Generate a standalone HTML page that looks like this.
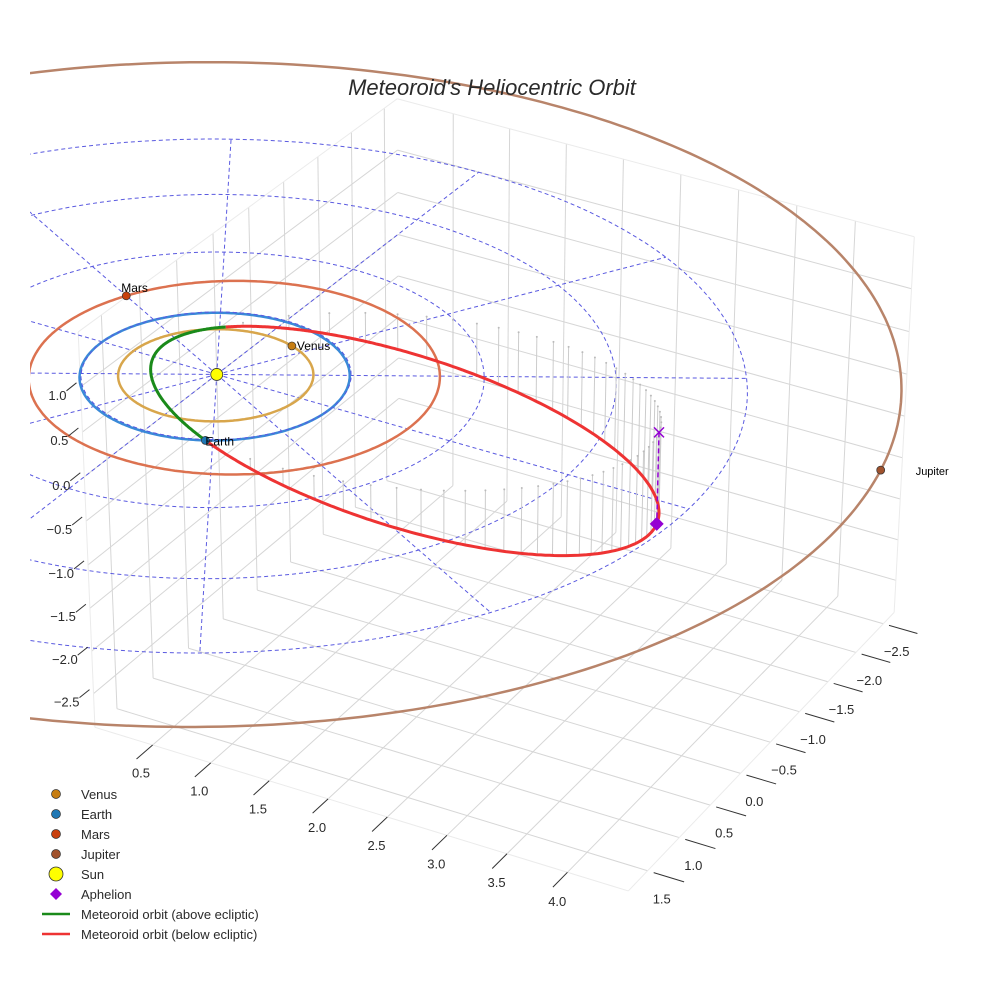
<!DOCTYPE html>
<html><head><meta charset="utf-8"><title>Meteoroid's Heliocentric Orbit</title>
<style>
html,body{margin:0;padding:0;background:#fff;}
svg{display:block;font-family:"Liberation Sans",Arial,sans-serif;}
</style></head>
<body>
<svg id="chart" width="984" height="984" viewBox="0 0 984 984" xmlns="http://www.w3.org/2000/svg">
<defs><clipPath id="sceneClip"><rect x="30" y="0" width="954" height="984"/></clipPath></defs>
<rect x="0" y="0" width="984" height="984" fill="#fff"/>
<g id="scene" clip-path="url(#sceneClip)"></g>
<text x="492" y="95" text-anchor="middle" font-size="22" font-style="italic" fill="#2a2a2a">Meteoroid's Heliocentric Orbit</text>
<g id="legend" font-size="13" fill="#2a2a2a">
  <g><circle cx="56" cy="794" r="4.5" fill="#c67d12" stroke="#333" stroke-width="0.7"/><text x="81" y="799">Venus</text></g>
  <g><circle cx="56" cy="814" r="4.5" fill="#1f77b4" stroke="#333" stroke-width="0.7"/><text x="81" y="819">Earth</text></g>
  <g><circle cx="56" cy="834" r="4.5" fill="#c8400e" stroke="#333" stroke-width="0.7"/><text x="81" y="839">Mars</text></g>
  <g><circle cx="56" cy="854" r="4.5" fill="#a0522d" stroke="#333" stroke-width="0.7"/><text x="81" y="859">Jupiter</text></g>
  <g><circle cx="56" cy="874" r="7" fill="#ffff00" stroke="#333" stroke-width="0.8"/><text x="81" y="879">Sun</text></g>
  <g><path d="M56 888 L62 894 L56 900 L50 894 Z" fill="#9400d3"/><text x="81" y="899">Aphelion</text></g>
  <g><line x1="42" y1="914" x2="70" y2="914" stroke="#1a8a1a" stroke-width="2.5"/><text x="81" y="919">Meteoroid orbit (above ecliptic)</text></g>
  <g><line x1="42" y1="934" x2="70" y2="934" stroke="#ee3333" stroke-width="2.5"/><text x="81" y="939">Meteoroid orbit (below ecliptic)</text></g>
</g>
</svg>
<script>
// ---- data ----
const planetNames = ['Venus', 'Earth', 'Mars', 'Jupiter'];
const planetSemiMajor = [0.723, 1.0, 1.524, 5.203];
const planetEccentricity = [0.0068, 0.0167, 0.0934, 0.0484];
const planetPeriLongDeg = [305, 277, 150, 61];
const planetAnglesDeg = [-70, 63, 210, -14];
const orbitSemiMajor = 2.03;
const orbitEccentricity = 0.757;
const orbitInclinationDeg = 17.8;
const orbitNodeDeg = 63;
const orbitPeriArgDeg = 101;
const xTicks = [0.5, 1.0, 1.5, 2.0, 2.5, 3.0, 3.5, 4.0];
const yTicks = [-2.5, -2.0, -1.5, -1.0, -0.5, 0.0, 0.5, 1.0, 1.5];
const zTicks = [1.0, 0.5, 0.0, -0.5, -1.0, -1.5, -2.0, -2.5];
const xRange = [0, 4.5];
const yRange = [-2.7, 1.8];
const zRange = [-2.9, 1.6];
const ringRadii = [1, 2, 3, 4];
const spokeAngles = [0, 30, 60, 90, 120, 150, 180, 210, 240, 270, 300, 330];
const spokeLength = 4;
const stemCount = 60;

// ---- camera (fit to box geometry and fixed calibration points) ----
function fitCamera() {
  const refs = [[0,0,0,401,464],[1,0,0,895,613],[1,1,0,618,895],[0,1,0,99,726],
                [0,0,1,400,102],[1,0,1,912,230],[0,1,1,82,330],[0,0.6,0.6444,218,375],
                [1.1222,0.32,0.6444,880,476],[-0.2777,0.4397,0.6444,123,296],
                [0.7129,0.4029,0.6444,662,430],[0.7129,0.4029,0.4118,662,522],
                [0.0549,0.4491,0.6444,294,344],[0.1009,0.798,0.6444,197,438],
                [-0.431,-0.178,0.6444,233,143],[-0.323,0.0169,0.6444,233,197]];
  const n = 11;
  const N = []; const B = [];
  for (let i = 0; i < n; i++) { N.push(new Array(n).fill(0)); B.push(0); }
  function add(r, b) {
    for (let i = 0; i < n; i++) { B[i] += r[i] * b; for (let j = 0; j < n; j++) N[i][j] += r[i] * r[j]; }
  }
  refs.forEach(p => {
    const [x, y, z, u, v] = p;
    add([x, y, z, 1, 0, 0, 0, 0, -u * x, -u * y, -u * z], u);
    add([0, 0, 0, 0, x, y, z, 1, -v * x, -v * y, -v * z], v);
  });
  for (let c = 0; c < n; c++) {
    let piv = c;
    for (let r = c + 1; r < n; r++) if (Math.abs(N[r][c]) > Math.abs(N[piv][c])) piv = r;
    [N[c], N[piv]] = [N[piv], N[c]]; [B[c], B[piv]] = [B[piv], B[c]];
    for (let r = 0; r < n; r++) {
      if (r === c) continue;
      const f = N[r][c] / N[c][c];
      for (let k = c; k < n; k++) N[r][k] -= f * N[c][k];
      B[r] -= f * B[c];
    }
  }
  return B.map((b, i) => b / N[i][i]);
}
const cam = fitCamera();
function P(X, Y, Z) {
  const fx = (X - xRange[0]) / (xRange[1] - xRange[0]);
  const fy = (Y - yRange[0]) / (yRange[1] - yRange[0]);
  const fz = (Z - zRange[0]) / (zRange[1] - zRange[0]);
  const w = cam[8] * fx + cam[9] * fy + cam[10] * fz + 1;
  return [(cam[0] * fx + cam[1] * fy + cam[2] * fz + cam[3]) / w,
          (cam[4] * fx + cam[5] * fy + cam[6] * fz + cam[7]) / w];
}

const NS = 'http://www.w3.org/2000/svg';
const scene = document.getElementById('scene');
const root = document.getElementById('chart');
function mk(tag, attrs, parent) {
  const el = document.createElementNS(NS, tag);
  for (const k in attrs) el.setAttribute(k, attrs[k]);
  (parent || scene).appendChild(el);
  return el;
}
function pathOf(pts) { return pts.map((p, i) => (i ? 'L' : 'M') + p[0].toFixed(1) + ' ' + p[1].toFixed(1)).join(' '); }
function seg(a, b, attrs, name, parent) {
  const pa = P(...a), pb = P(...b);
  const el = mk('line', Object.assign({x1: pa[0], y1: pa[1], x2: pb[0], y2: pb[1]}, attrs), parent);
  
  
  return el;
}
const rad = d => d * Math.PI / 180;

// ---- box grid ----
const grid = mk('g', {});


const gs = {stroke: '#d6d6d6', 'stroke-width': 1};
const es = {stroke: '#ebebeb', 'stroke-width': 1};
const [x0, x1] = xRange, [y0, y1] = yRange, [z0, z1] = zRange;
yTicks.forEach(y => seg([x0, y, z0], [x0, y, z1], gs, 'left-wall-gridline', grid));
zTicks.forEach(z => seg([x0, y0, z], [x0, y1, z], gs, 'left-wall-gridline', grid));
xTicks.forEach(x => seg([x, y0, z0], [x, y0, z1], gs, 'right-wall-gridline', grid));
zTicks.forEach(z => seg([x0, y0, z], [x1, y0, z], gs, 'right-wall-gridline', grid));
xTicks.forEach(x => seg([x, y0, z0], [x, y1, z0], gs, 'floor-gridline', grid));
yTicks.forEach(y => seg([x0, y, z0], [x1, y, z0], gs, 'floor-gridline', grid));
[[[x0,y1,z0],[x0,y1,z1]],[[x0,y0,z1],[x0,y1,z1]],[[x0,y0,z1],[x1,y0,z1]],[[x1,y0,z0],[x1,y0,z1]],
 [[x0,y1,z0],[x1,y1,z0]],[[x1,y0,z0],[x1,y1,z0]]].forEach(e => seg(e[0], e[1], es, 'box-edge', grid));

// ---- reference rings and spokes ----
const ref = mk('g', {fill: 'none', stroke: '#5a5ae0', 'stroke-width': 1, 'stroke-dasharray': '4,3'});


ringRadii.forEach(r => {
  const pts = [];
  for (let t = 0; t <= 360; t += 2) pts.push(P(r * Math.cos(rad(t)), r * Math.sin(rad(t)), 0));
  const el = mk('path', {d: pathOf(pts)}, ref);
  
  
});
spokeAngles.forEach(a => {
  seg([0, 0, 0], [spokeLength * Math.cos(rad(a)), spokeLength * Math.sin(rad(a)), 0], {}, 'reference-spoke', ref);
});

// ---- meteoroid orbit ----
const eO = orbitEccentricity, aO = orbitSemiMajor, pO = aO * (1 - eO * eO);
const iO = rad(orbitInclinationDeg), OmO = rad(orbitNodeDeg), wO = rad(orbitPeriArgDeg);
function orbitPos(nu) {
  const r = pO / (1 + eO * Math.cos(nu));
  const u = wO + nu;
  return [r * (Math.cos(OmO) * Math.cos(u) - Math.sin(OmO) * Math.sin(u) * Math.cos(iO)),
          r * (Math.sin(OmO) * Math.cos(u) + Math.cos(OmO) * Math.sin(u) * Math.cos(iO)),
          r * Math.sin(u) * Math.sin(iO)];
}

// stems (equal time sampling)
const stems = mk('g', {});


for (let k = 0; k < stemCount; k++) {
  const M = 2 * Math.PI * k / stemCount;
  let E = M;
  for (let it = 0; it < 30; it++) E = E - (E - eO * Math.sin(E) - M) / (1 - eO * Math.cos(E));
  const nu = 2 * Math.atan2(Math.sqrt(1 + eO) * Math.sin(E / 2), Math.sqrt(1 - eO) * Math.cos(E / 2));
  const q = orbitPos(nu);
  if (q[2] >= 0) continue;
  seg(q, [q[0], q[1], 0], {stroke: '#cccccc', 'stroke-width': 1}, 'depth-stem', stems);
  const t = P(q[0], q[1], 0);
  const dot = mk('circle', {cx: t[0], cy: t[1], r: 1, fill: '#bbb'}, stems);
  
  
}

// planet orbits (eccentric ellipses in the ecliptic)
function planetR(i, thetaDeg) {
  const a = planetSemiMajor[i], e = planetEccentricity[i];
  return a * (1 - e * e) / (1 + e * Math.cos(rad(thetaDeg - planetPeriLongDeg[i])));
}
const orbitColors = ['#d8a64c', '#3a8ad8', '#dc7250', '#b8846a'];
planetSemiMajor.forEach((a, i) => {
  const pts = [];
  for (let t = 0; t <= 360; t += 1) { const r = planetR(i, t); pts.push(P(r * Math.cos(rad(t)), r * Math.sin(rad(t)), 0)); }
  const el = mk('path', {d: pathOf(pts), fill: 'none', stroke: orbitColors[i], 'stroke-width': 2.5});
  
  
});
{
  const pts = [];
  for (let t = 0; t <= 360; t += 2) pts.push(P(Math.cos(rad(t)), Math.sin(rad(t)), 0));
  const el = mk('path', {d: pathOf(pts), fill: 'none', stroke: '#5a5ae0', 'stroke-width': 1, 'stroke-dasharray': '4,3'});
  
  
}

// meteoroid orbit split by sign of z
let runs = [], cur = null, curSign = null;
for (let d = -180; d <= 180; d += 0.5) {
  const q = orbitPos(rad(d));
  const s = q[2] >= 0;
  const pt = P(...q);
  if (s !== curSign) { if (cur) { cur.pts.push(pt); } cur = {above: s, pts: [pt]}; runs.push(cur); curSign = s; }
  else cur.pts.push(pt);
}
runs.forEach(r => {
  const el = mk('path', {d: pathOf(r.pts), fill: 'none', stroke: r.above ? '#1a8a1a' : '#ee3333', 'stroke-width': 3, 'stroke-linejoin': 'round'});
  
  
});

// aphelion
const aph = orbitPos(Math.PI);
const aphS = P(...aph), aphP = P(aph[0], aph[1], 0);
{
  const l = mk('line', {x1: aphP[0], y1: aphP[1], x2: aphS[0], y2: aphS[1], stroke: '#9400d3', 'stroke-width': 1.5, 'stroke-dasharray': '5,3'});
  
  
  const x = mk('path', {d: `M${aphP[0]-5} ${aphP[1]-5} L${aphP[0]+5} ${aphP[1]+5} M${aphP[0]+5} ${aphP[1]-5} L${aphP[0]-5} ${aphP[1]+5}`, stroke: '#9400d3', 'stroke-width': 1.5});
  
  
  const dm = mk('path', {d: `M${aphS[0]} ${aphS[1]-7} L${aphS[0]+7} ${aphS[1]} L${aphS[0]} ${aphS[1]+7} L${aphS[0]-7} ${aphS[1]} Z`, fill: '#9400d3'});
  
  
}

// planets
const markerColors = ['#c67d12', '#1f77b4', '#c8400e', '#a0522d'];
const labelOffsets = [[5, 0], [0, 1], [-5, -8], [35, 1]];
planetSemiMajor.forEach((a0, i) => {
  const r = planetR(i, planetAnglesDeg[i]);
  const a = rad(planetAnglesDeg[i]);
  const s = P(r * Math.cos(a), r * Math.sin(a), 0);
  const c = mk('circle', {cx: s[0], cy: s[1], r: 4, fill: markerColors[i], stroke: '#333', 'stroke-width': 0.7});
  
  
  const t = mk('text', {x: s[0] + labelOffsets[i][0], y: s[1] + labelOffsets[i][1] + 4, 'font-size': i === 3 ? 11 : 12, fill: '#000'});
  t.textContent = planetNames[i];
  
  
});
{
  const s = P(0, 0, 0);
  const c = mk('circle', {cx: s[0], cy: s[1], r: 6, fill: '#ffff00', stroke: '#333', 'stroke-width': 0.8});
  
  
}

// ---- ticks ----
const axes = mk('g', {'font-size': 13, fill: '#2a2a2a'}, root);


xTicks.forEach(x => {
  const b = P(x, y1, z0), o = P(x, y1 + 0.22, z0);
  const l = mk('line', {x1: b[0], y1: b[1], x2: o[0], y2: o[1], stroke: '#333', 'stroke-width': 1}, axes);
  
  
  const lp = P(x, y1 + 0.2, z0);
  const t = mk('text', {x: lp[0] + 3, y: lp[1] + 20, 'text-anchor': 'middle'}, axes);
  t.textContent = x.toFixed(1);
  
  
});
yTicks.forEach(y => {
  const b = P(x1 + 0.05, y, z0), o = P(x1 + 0.3, y, z0);
  const l = mk('line', {x1: b[0], y1: b[1], x2: o[0], y2: o[1], stroke: '#333', 'stroke-width': 1}, axes);
  
  
  const lp = P(x1 + 0.1, y, z0);
  const t = mk('text', {x: lp[0] + 2, y: lp[1] + 29, 'text-anchor': 'middle'}, axes);
  t.textContent = (y < 0 ? '\u2212' : '') + Math.abs(y).toFixed(1);
  
  
});
zTicks.forEach(z => {
  const b = P(x0, y1, z);
  const l = mk('line', {x1: b[0] - 14, y1: b[1] + 4, x2: b[0] - 4, y2: b[1] - 4, stroke: '#333', 'stroke-width': 1}, axes);
  
  
  const t = mk('text', {x: b[0] - 14, y: b[1] + 13, 'text-anchor': 'end'}, axes);
  t.textContent = (z < 0 ? '\u2212' : '') + Math.abs(z).toFixed(1);
  
  
});
</script>
</body></html>
